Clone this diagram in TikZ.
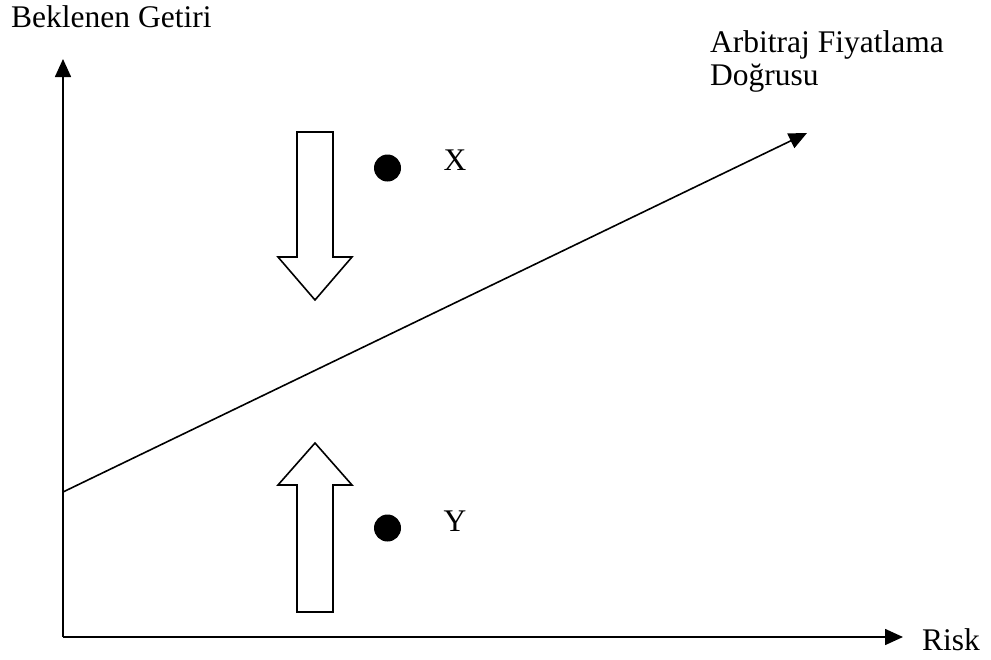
\documentclass[tikz,border=0pt]{standalone}
\usepackage{fontspec}
\setmainfont{Liberation Serif}
\usetikzlibrary{arrows.meta}
\begin{document}
\begin{tikzpicture}[x=1pt,y=-1pt,
  axis/.style={line width=1.6pt,-{Triangle[length=18pt,width=16pt]}},
  lbl/.style={font=\fontsize{31.5}{33}\selectfont,inner sep=0pt,anchor=base west},
  dot/.style={circle,fill=black,minimum size=27pt,inner sep=0pt},
  blockarrow/.style={draw=black,line width=1.6pt,fill=white,line join=miter}]
\useasboundingbox (0,0) rectangle (991,659);
\coordinate (O) at (63,637);
\coordinate (ytip) at (63,59);
\coordinate (xtip) at (903,637);
\coordinate (L0) at (63,492);
\coordinate (L1) at (807,133);
\draw[axis] (O) -- (ytip);
\draw[axis] (O) -- (xtip);
\draw[axis] (L0) -- (L1);
\node[lbl] (yl) at (11,27) {Beklenen Getiri};
\node[lbl] (xl) at (922,650) {Risk};
\node[lbl] (ap1) at (710,52) {Arbitraj Fiyatlama};
\node[lbl] (ap2) at (710,85) {Doğrusu};
\node[dot] (dx) at (387.5,168) {};
\node[dot] (dy) at (387.5,528) {};
\node[lbl,anchor=base] (tx) at (455,170) {X};
\node[lbl,anchor=base] (ty) at (455,531) {Y};
\draw[blockarrow] (297,132) -- (333,132) -- (333,257) -- (352,257) -- (315,300) -- (278,257) -- (297,257) -- cycle;
\draw[blockarrow] (297,612) -- (333,612) -- (333,485) -- (352,485) -- (315,443) -- (278,485) -- (297,485) -- cycle;
\end{tikzpicture}
\end{document}
